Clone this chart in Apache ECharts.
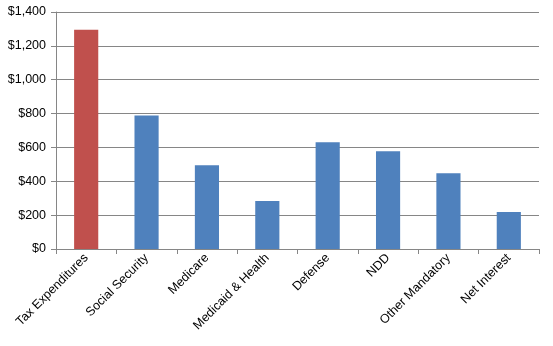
<!DOCTYPE html>
<html><head><meta charset="utf-8">
<script src="https://cdn.jsdelivr.net/npm/echarts@6/dist/echarts.min.js"></script>
<style>html,body{margin:0;padding:0;background:#fff}#c{width:553px;height:346px}</style>
</head><body><div id="c"></div>
<script>
var categories = ["Tax Expenditures","Social Security","Medicare","Medicaid & Health","Defense","NDD","Other Mandatory","Net Interest"];
var values = [1295, 788, 494, 283, 630, 577, 448, 219];
var yTicks = [0, 200, 400, 600, 800, 1000, 1200, 1400];
var highlightIndex = 0;

var chart = echarts.init(document.getElementById('c'), null, {renderer:'canvas'});
var font = "'Liberation Sans', Arial, sans-serif";
chart.setOption({
  animation:false,
  grid:{left:56, right:14, top:12, bottom:97, containLabel:false},
  xAxis:{type:'category', data:categories,
    axisLine:{lineStyle:{color:'#868686'}},
    axisTick:{show:true, alignWithLabel:false, length:5, lineStyle:{color:'#868686'}},
    axisLabel:{rotate:45, interval:0, color:'#000', fontSize:12.5, fontFamily:font, margin:7}
  },
  yAxis:{type:'value', min:yTicks[0], max:yTicks[yTicks.length-1], interval:200,
    axisLine:{show:true, lineStyle:{color:'#868686'}},
    axisTick:{show:true, length:5, lineStyle:{color:'#868686'}},
    splitLine:{lineStyle:{color:'#868686'}},
    axisLabel:{color:'#000', fontSize:12.5, fontFamily:font, margin:10,
      formatter:function(v){return '$'+v.toLocaleString('en-US');}}
  },
  series:[{type:'bar', barWidth:'40%',
    data:values.map(function(v,i){return {value:v, itemStyle:{color:i===highlightIndex?'#C0504D':'#4F81BD'}};})
  }]
});
</script></body></html>
